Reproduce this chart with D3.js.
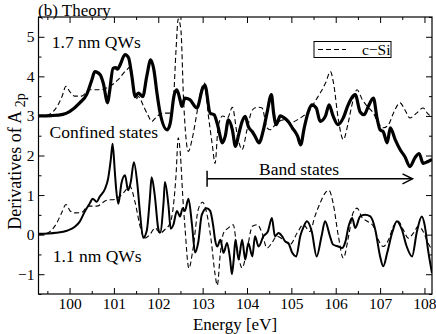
<!DOCTYPE html>
<html>
<head>
<meta charset="utf-8">
<script src="https://cdn.jsdelivr.net/npm/d3@7"></script>
<style>
  body { margin: 0; background: #fff; }
</style>
</head>
<body>
<script>
// energy [eV] / value pairs
const qw17 = [
  [99.3,3.0],[99.6,3.01],[99.85,3.04],[100.0,3.11],[100.23,3.33],[100.39,3.55],[100.5,3.9],[100.57,4.12],
  [100.69,4.04],[100.76,3.83],[100.86,3.33],[100.9,3.6],[100.98,4.2],[101.04,4.22],[101.08,4.18],[101.14,4.29],
  [101.25,4.55],[101.33,4.47],[101.4,4.04],[101.48,3.49],[101.55,3.58],[101.65,3.49],[101.74,4.0],[101.83,4.42],
  [101.9,4.17],[101.97,3.58],[102.04,3.08],[102.2,2.65],[102.27,2.82],[102.36,3.54],[102.42,3.66],[102.49,3.41],
  [102.53,3.24],[102.6,3.45],[102.71,3.41],[102.87,3.2],[103.0,3.7],[103.05,3.78],[103.17,3.07],[103.26,3.03],
  [103.33,2.8],[103.45,2.32],[103.51,2.49],[103.58,2.9],[103.67,2.65],[103.74,2.23],[103.81,2.52],[103.89,2.86],
  [103.96,2.99],[104.03,2.73],[104.12,2.6],[104.18,2.49],[104.27,2.32],[104.37,2.65],[104.45,3.07],[104.55,3.54],
  [104.6,3.07],[104.66,2.78],[104.75,3.0],[104.84,2.95],[104.93,2.86],[105.02,2.7],[105.14,2.49],[105.21,2.27],
  [105.29,2.7],[105.38,3.1],[105.46,3.28],[105.56,3.2],[105.65,2.86],[105.77,3.0],[105.85,3.28],[105.94,3.0],
  [106.05,2.78],[106.17,2.95],[106.28,3.28],[106.44,3.54],[106.55,3.1],[106.64,3.03],[106.73,3.23],[106.85,3.45],
  [106.93,2.95],[107.0,2.65],[107.07,2.6],[107.16,2.32],[107.23,2.7],[107.34,2.4],[107.45,2.15],[107.56,1.97],
  [107.67,1.72],[107.79,1.95],[107.88,2.05],[107.97,1.8],[108.08,1.85],[108.17,1.9]
];
const cSiUpper = [
  [99.3,3.0],[99.45,3.01],[99.56,3.05],[99.72,3.24],[99.83,3.49],[99.92,3.75],[100.0,3.62],[100.12,3.5],
  [100.27,3.5],[100.45,3.66],[100.69,3.66],[100.91,3.75],[101.09,3.91],[101.29,4.17],[101.38,4.25],[101.43,3.83],
  [101.49,3.41],[101.55,3.49],[101.67,3.24],[101.78,2.99],[101.85,2.86],[101.97,2.99],[102.12,3.07],[102.27,3.07],
  [102.34,3.41],[102.4,4.67],[102.45,5.45],[102.51,5.17],[102.57,3.41],[102.68,2.1],[102.76,2.4],[102.87,3.07],
  [102.95,3.58],[103.04,3.83],[103.13,3.0],[103.22,2.25],[103.28,1.8],[103.35,2.73],[103.45,3.0],[103.56,2.95],
  [103.67,3.22],[103.78,2.52],[103.89,2.15],[104.0,2.65],[104.12,3.15],[104.23,3.22],[104.34,3.2],[104.45,2.7],
  [104.52,2.65],[104.67,2.82],[104.82,2.9],[104.97,2.82],[105.13,2.9],[105.27,3.0],[105.42,3.15],[105.53,3.36],
  [105.65,3.58],[105.77,3.83],[105.88,4.12],[105.95,3.83],[106.06,2.9],[106.17,2.4],[106.28,2.82],[106.37,3.3],
  [106.48,3.66],[106.6,3.41],[106.71,3.24],[106.85,3.07],[106.96,2.82],[107.08,2.7],[107.19,2.78],[107.3,3.07],
  [107.45,3.33],[107.56,3.15],[107.67,2.95],[107.82,3.07],[107.97,3.2],[108.08,3.05],[108.17,2.98]
];
const qw11 = [
  [99.3,0.02],[99.7,0.05],[99.94,0.1],[100.12,0.2],[100.23,0.33],[100.35,0.6],[100.46,0.8],[100.52,0.91],
  [100.61,0.83],[100.68,0.96],[100.8,1.16],[100.87,1.42],[100.93,1.9],[100.97,2.3],[101.02,1.6],[101.05,1.16],
  [101.1,0.78],[101.17,1.3],[101.25,1.5],[101.32,1.12],[101.38,1.33],[101.45,1.83],[101.53,1.26],[101.59,0.52],
  [101.66,-0.08],[101.74,0.1],[101.81,0.91],[101.85,1.45],[101.92,1.0],[102.0,0.15],[102.04,0.05],[102.12,0.83],
  [102.15,1.33],[102.23,0.73],[102.28,0.15],[102.34,0.25],[102.42,0.6],[102.49,0.46],[102.55,0.67],[102.6,0.6],
  [102.68,0.91],[102.76,0.25],[102.83,-0.45],[102.9,-0.2],[102.98,0.5],[103.09,0.67],[103.17,0.6],[103.24,0.21],
  [103.28,-0.13],[103.33,-0.3],[103.4,-0.13],[103.47,-0.46],[103.55,-0.21],[103.62,-0.63],[103.66,-1.0],[103.7,-0.63],
  [103.74,-0.13],[103.81,-0.63],[103.89,-0.13],[103.96,-0.63],[104.03,-0.21],[104.12,-0.55],[104.18,-0.04],[104.26,-0.3],
  [104.37,-0.04],[104.47,0.08],[104.56,0.42],[104.63,-0.04],[104.71,0.04],[104.79,-0.04],[104.86,-0.17],[104.93,-0.21],
  [105.02,-0.46],[105.11,-0.55],[105.2,-0.04],[105.28,0.21],[105.35,0.34],[105.46,0.08],[105.57,-0.55],[105.68,-0.04],
  [105.76,0.34],[105.87,-0.04],[105.94,-0.25],[106.06,-0.3],[106.14,-0.34],[106.22,-0.17],[106.29,0.21],[106.37,0.42],
  [106.44,0.17],[106.55,0.46],[106.66,0.5],[106.78,0.46],[106.89,0.13],[107.0,-0.55],[107.07,-0.8],[107.16,-0.46],
  [107.27,0.04],[107.38,0.34],[107.49,0.13],[107.6,-0.3],[107.72,-0.55],[107.83,0.08],[107.94,0.46],[108.01,0.21],
  [108.08,-0.38],[108.17,-0.97]
];
const cSiLower = [
  [99.3,0.0],[99.45,0.02],[99.56,0.08],[99.71,0.29],[99.82,0.55],[99.92,0.76],[100.02,0.59],[100.12,0.55],
  [100.27,0.56],[100.42,0.72],[100.61,0.72],[100.84,0.87],[101.02,0.89],[101.21,1.05],[101.36,1.22],[101.48,0.8],
  [101.59,0.21],[101.69,-0.09],[101.81,0.0],[101.93,0.17],[102.04,0.04],[102.15,0.13],[102.27,0.3],[102.34,0.72],
  [102.4,1.5],[102.45,2.45],[102.5,2.0],[102.55,1.0],[102.6,0.21],[102.69,-0.85],[102.78,-0.38],[102.9,0.63],
  [103.0,0.82],[103.09,0.55],[103.19,-0.13],[103.28,-1.0],[103.33,-1.28],[103.4,-0.46],[103.47,0.04],[103.58,0.17],
  [103.69,0.25],[103.77,-0.3],[103.89,-0.84],[104.0,-0.38],[104.12,0.21],[104.23,0.25],[104.34,0.04],[104.45,-0.34],
  [104.56,-0.21],[104.67,-0.04],[104.82,-0.13],[104.97,-0.25],[105.13,0.04],[105.27,0.25],[105.42,0.08],[105.53,0.46],
  [105.65,0.8],[105.76,1.05],[105.85,1.12],[105.94,0.8],[106.06,-0.04],[106.17,-0.59],[106.29,-0.04],[106.39,0.55],
  [106.48,0.67],[106.6,0.42],[106.71,0.34],[106.85,0.21],[106.96,-0.13],[107.07,-0.3],[107.19,-0.13],[107.3,0.21],
  [107.41,0.34],[107.52,0.13],[107.64,-0.09],[107.75,0.04],[107.86,0.21],[107.97,0.08],[108.08,-0.21],[108.17,-0.38]
];
const xTicks = [100, 101, 102, 103, 104, 105, 106, 107, 108];
const yTicks = [-1, 0, 1, 2, 3, 4, 5];
const bandArrow = [103.1, 107.73]; // energy range of "Band states"
const bandArrowLevel = 1.41;

const W = 436, H = 334;
const box = { left: 38.5, right: 432, top: 17, bottom: 294 };
const serif = "'Liberation Serif', serif";

const svg = d3.select("body").append("svg").attr("width", W).attr("height", H);

const x = d3.scaleLinear().domain([99.3, 108.17]).range([box.left, box.right]);
const y = d3.scaleLinear().domain([-1.5, 5.5]).range([box.bottom, box.top]);

const xMinor = d3.range(99.5, 108.2, 1);
const yMinor = d3.range(-1.5, 5.6, 1);

// ticks on all four sides, pointing inwards
svg.append("g").attr("transform", `translate(0,${box.bottom})`)
  .call(d3.axisBottom(x).tickValues(xTicks).tickSize(-6).tickPadding(4).tickFormat(d3.format("d")));
svg.append("g").attr("transform", `translate(0,${box.bottom})`)
  .call(d3.axisBottom(x).tickValues(xMinor).tickSize(-3).tickFormat(""));
svg.append("g").attr("transform", `translate(0,${box.top})`)
  .call(d3.axisTop(x).tickValues(xTicks).tickSize(-6).tickFormat(""));
svg.append("g").attr("transform", `translate(0,${box.top})`)
  .call(d3.axisTop(x).tickValues(xMinor).tickSize(-3).tickFormat(""));

svg.append("g").attr("transform", `translate(${box.left},0)`)
  .call(d3.axisLeft(y).tickValues(yTicks).tickSize(-6).tickPadding(4).tickFormat(d => d < 0 ? "\u2212" + Math.abs(d) : d));
svg.append("g").attr("transform", `translate(${box.left},0)`)
  .call(d3.axisLeft(y).tickValues(yMinor).tickSize(-3).tickFormat(""));
svg.append("g").attr("transform", `translate(${box.right},0)`)
  .call(d3.axisRight(y).tickValues(yTicks).tickSize(-6).tickFormat(""));
svg.append("g").attr("transform", `translate(${box.right},0)`)
  .call(d3.axisRight(y).tickValues(yMinor).tickSize(-3).tickFormat(""));

svg.selectAll(".domain").remove();
svg.selectAll("g").attr("font-family", serif);
svg.selectAll(".tick line").attr("stroke", "#000").attr("stroke-width", 1);
svg.selectAll(".tick text").attr("font-family", serif).attr("font-size", 15.5).attr("fill", "#000");

svg.append("rect")
  .attr("x", box.left).attr("y", box.top)
  .attr("width", box.right - box.left).attr("height", box.bottom - box.top)
  .attr("fill", "none").attr("stroke", "#000").attr("stroke-width", 1.2);

svg.append("clipPath").attr("id", "plot-clip")
  .append("rect").attr("x", box.left).attr("y", box.top)
  .attr("width", box.right - box.left).attr("height", box.bottom - box.top);

const line = d3.line().x(d => x(d[0])).y(d => y(d[1])).curve(d3.curveMonotoneX);

const plot = svg.append("g").attr("clip-path", "url(#plot-clip)");

const series = [
  { data: cSiUpper, width: 1.1, dash: "5,3" },
  { data: cSiLower, width: 1.1, dash: "5,3" },
  { data: qw11, width: 2, dash: null },
  { data: qw17, width: 3.2, dash: null }
];

plot.selectAll("path.series")
  .data(series)
  .enter()
  .append("path")
  .attr("class", "series")
  .attr("d", s => line(s.data))
  .attr("fill", "none")
  .attr("stroke", "#000")
  .attr("stroke-width", s => s.width)
  .attr("stroke-dasharray", s => s.dash)
  .attr("stroke-linejoin", "round");

// band states arrow
const ay = y(bandArrowLevel);
const ax0 = x(bandArrow[0]), ax1 = x(bandArrow[1]);
svg.append("line").attr("x1", ax0).attr("x2", ax1).attr("y1", ay).attr("y2", ay)
  .attr("stroke", "#000").attr("stroke-width", 1.5);
svg.append("line").attr("x1", ax0).attr("x2", ax0).attr("y1", ay - 8).attr("y2", ay + 8)
  .attr("stroke", "#000").attr("stroke-width", 1.5);
svg.append("path").attr("d", `M${ax1 - 10},${ay - 5}L${ax1},${ay}L${ax1 - 10},${ay + 5}`)
  .attr("fill", "none").attr("stroke", "#000").attr("stroke-width", 1.5);

// annotations
const label = (tx, ty, str, size) =>
  svg.append("text").attr("x", tx).attr("y", ty).attr("font-family", serif)
    .attr("font-size", size).attr("fill", "#000").text(str);

label(38, 15.5, "(b) Theory", 17);
label(x(99.6), y(4.72), "1.7 nm QWs", 17.5);
label(x(99.55), y(2.45), "Confined states", 17.5);
label(x(99.62), y(-0.68), "1.1 nm QWs", 17.5);
label(x(104.27), y(1.5), "Band states", 17.5);

svg.append("text")
  .attr("x", 235).attr("y", 330)
  .attr("text-anchor", "middle").attr("font-family", serif).attr("font-size", 17)
  .text("Energy [eV]");

const ylab = svg.append("text")
  .attr("transform", `translate(21,${(box.top + box.bottom) / 2 + 6}) rotate(-90)`)
  .attr("text-anchor", "middle").attr("font-family", serif).attr("font-size", 18);
ylab.append("tspan").text("Derivatives of A ");
ylab.append("tspan").attr("font-size", 14).attr("dy", 4).text("2p");

// legend
const lg = svg.append("g");
lg.append("rect").attr("x", 314).attr("y", 41.5).attr("width", 77).attr("height", 16)
  .attr("fill", "#fff").attr("stroke", "#000").attr("stroke-width", 1);
lg.append("line").attr("x1", 318).attr("x2", 346).attr("y1", 49.5).attr("y2", 49.5)
  .attr("stroke", "#000").attr("stroke-width", 1.1).attr("stroke-dasharray", "5,3");
lg.append("text").attr("x", 362).attr("y", 54.5).attr("font-family", serif).attr("font-size", 15.5).text("c\u2212Si");
</script>
</body>
</html>
